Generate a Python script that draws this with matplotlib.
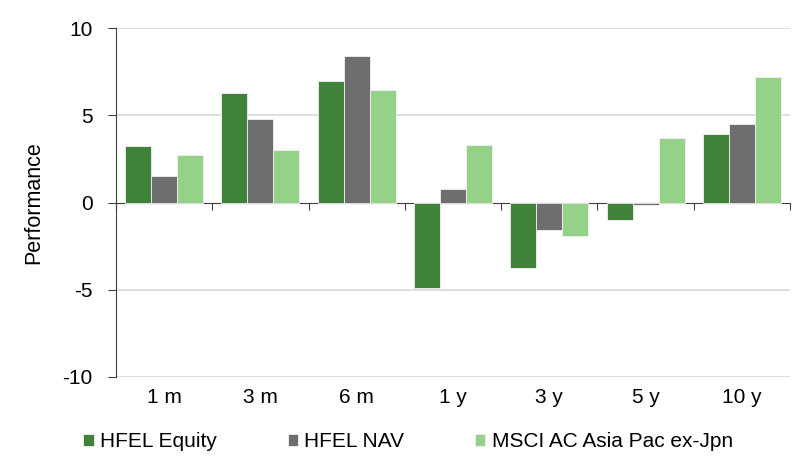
import numpy as np
import matplotlib.pyplot as plt
import matplotlib.transforms as mtransforms

periods = ["1 m", "3 m", "6 m", "1 y", "3 y", "5 y", "10 y"]
hfel_equity = [3.22, 6.29, 6.99, -4.91, -3.74, -1.03, 3.96]
hfel_nav = [1.54, 4.78, 8.40, 0.78, -1.58, -0.17, 4.51]
msci_apxj = [2.74, 3.03, 6.44, 3.31, -1.93, 3.71, 7.20]

names = ["HFEL Equity", "HFEL NAV", "MSCI AC Asia Pac ex-Jpn"]
colors = ["#41823A", "#6E6E6E", "#96D18A"]

plt.rcParams['font.family'] = ['Liberation Sans', 'DejaVu Sans']

fig = plt.figure(figsize=(8, 4.71), dpi=100)
ax = fig.add_axes([0.145, 0.2, 0.8425, 0.74])

x = np.arange(len(periods))
w = 0.27
for i, (vals, name, c) in enumerate(zip([hfel_equity, hfel_nav, msci_apxj], names, colors)):
    ax.bar(x + (i - 1) * w, vals, w, color=c, edgecolor='#f2f2f2', linewidth=0.6,
           label=name, zorder=3)

ax.set_xlim(-0.5, len(periods) - 0.5)
ax.set_ylim(-10, 10)
ax.set_yticks([-10, -5, 0, 5, 10])
ax.set_yticklabels(["-10", "-5", "0", "5", "10"], fontsize=15)
for v in [-10, -5, 5, 10]:
    ax.axhline(v, color='#D9D9D9', lw=1.2, zorder=1)

ax.spines['top'].set_visible(False)
ax.spines['right'].set_visible(False)
ax.spines['left'].set_color('#404040')
ax.spines['bottom'].set_position(('data', 0))
ax.spines['bottom'].set_color('#404040')
ax.tick_params(axis='y', length=6, color='#404040', pad=11)

# category boundaries as ticks on the zero line
ax.set_xticks(np.arange(len(periods) + 1) - 0.5)
ax.set_xticklabels([])
ax.tick_params(axis='x', length=5, direction='out', color='#404040')

trans = mtransforms.blended_transform_factory(ax.transData, ax.transAxes)
for xi, p in zip(x, periods):
    ax.text(xi, -0.06, p, transform=trans, ha='center', va='center', fontsize=15)

ax.set_ylabel("Performance", fontsize=15.5, labelpad=13)

fig.legend(loc='center', bbox_to_anchor=(0.51, 0.062), ncol=3, frameon=False,
           fontsize=15, handlelength=0.5, handleheight=0.5, handletextpad=0.3,
           columnspacing=3.4)

fig.savefig("out.png", dpi=100)
